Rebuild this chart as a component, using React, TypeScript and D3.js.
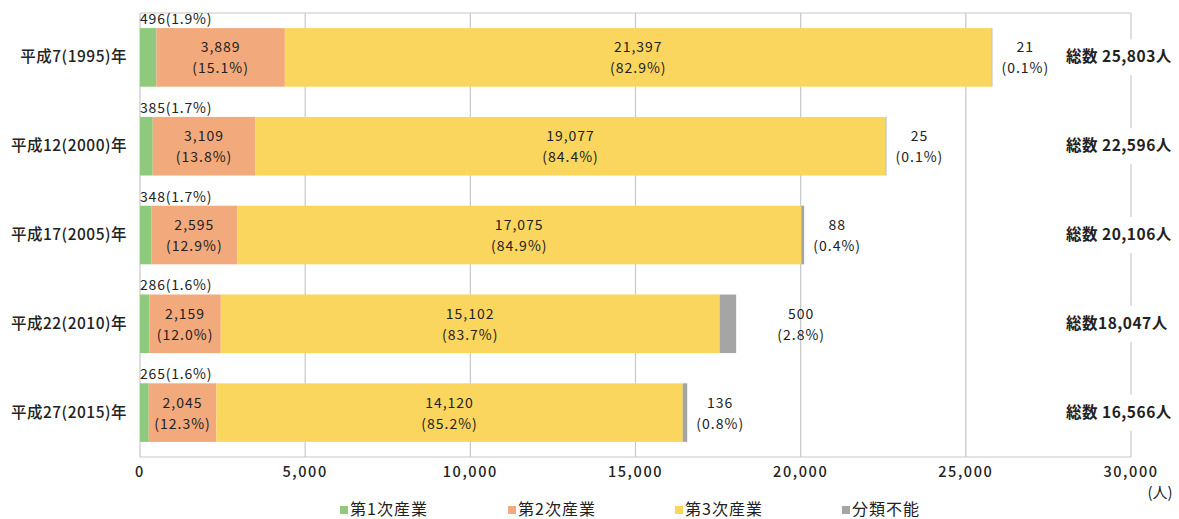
import React from "react";
import * as d3 from "d3";

const years = ["平成7(1995)年", "平成12(2000)年", "平成17(2005)年", "平成22(2010)年", "平成27(2015)年"];
const seriesNames = ["第1次産業", "第2次産業", "第3次産業", "分類不能"];
const primary = [496, 385, 348, 286, 265];
const secondary = [3889, 3109, 2595, 2159, 2045];
const tertiary = [21397, 19077, 17075, 15102, 14120];
const unclassified = [21, 25, 88, 500, 136];
const primaryPct = [1.9, 1.7, 1.7, 1.6, 1.6];
const secondaryPct = [15.1, 13.8, 12.9, 12.0, 12.3];
const tertiaryPct = [82.9, 84.4, 84.9, 83.7, 85.2];
const unclassifiedPct = [0.1, 0.1, 0.4, 2.8, 0.8];
const totalLabels = ["総数 25,803人", "総数 22,596人", "総数 20,106人", "総数18,047人", "総数 16,566人"];
const xTicks = [0, 5000, 10000, 15000, 20000, 25000, 30000];

const colors = ["#8fc97c", "#f2a97c", "#fad65e", "#a5a5a5"];
const FONT = "'Noto Sans CJK JP', 'Noto Sans', sans-serif";

export default function App() {
  const W = 1179, H = 519;
  const left = 140, right = 1131, top = 13, bottom = 457;
  const x = d3.scaleLinear().domain([0, 30000]).range([left, right]);
  const y = d3.scaleBand<string>().domain(years).range([top, bottom]).paddingInner(0.34).paddingOuter(0.17);
  const fmt = d3.format(",");
  const pf = (v: number) => `(${v.toFixed(1)}%)`;
  const series = [primary, secondary, tertiary, unclassified];
  const bh = y.bandwidth();
  const vs = { fontSize: 14, letterSpacing: 1, fill: "#222" } as const;

  return (
    <svg width={W} height={H} style={{ position: "absolute", left: 0, top: 0, background: "#fff" }} fontFamily={FONT}>
      {xTicks.map((t) => (
        <line key={t} x1={x(t)} x2={x(t)} y1={top} y2={bottom} stroke="#c8c8c8" strokeWidth={1.2} />
      ))}
      <line x1={left} x2={right} y1={top} y2={top} stroke="#c8c8c8" strokeWidth={1.2} />
      <line x1={left} x2={right} y1={bottom} y2={bottom} stroke="#c8c8c8" strokeWidth={1.2} />
      {xTicks.map((t) => (
        <text key={"t" + t} x={x(t)} y={bottom + 20} textAnchor="middle" fontSize={14.5} letterSpacing={1.6} fill="#222" fontWeight={500}>
          {fmt(t)}
        </text>
      ))}
      <text x={1160} y={498} textAnchor="middle" fontSize={15} fill="#222">(人)</text>

      {years.map((yr, i) => {
        const y0 = y(yr)!;
        const cy = y0 + bh / 2;
        let acc = 0;
        const segs = series.map((s, k) => {
          const a = acc;
          acc += s[i];
          return { k, a, b: acc };
        });
        const total = acc;
        const otherOff = i === 3 ? 65 : 33;
        const m1 = (x(segs[1].a) + x(segs[1].b)) / 2;
        const m2 = (x(segs[2].a) + x(segs[2].b)) / 2;
        const mo = x(total) + otherOff;
        return (
          <g key={yr}>
            <text x={127} y={cy + 5} textAnchor="end" fontSize={15.5} letterSpacing={0.5} fill="#222" fontWeight={500}>{yr}</text>
            {segs.map((sg) => (
              <rect key={sg.k} x={x(sg.a)} y={y0} width={x(sg.b) - x(sg.a)} height={bh} fill={colors[sg.k]} />
            ))}
            <text x={x(0)} y={y0 - 4} fontSize={14} letterSpacing={0.8} fill="#222">{`${primary[i]}${pf(primaryPct[i])}`}</text>
            <text x={m1} y={cy - 5} textAnchor="middle" {...vs}>{fmt(secondary[i])}</text>
            <text x={m1} y={cy + 16} textAnchor="middle" {...vs}>{pf(secondaryPct[i])}</text>
            <text x={m2} y={cy - 5} textAnchor="middle" {...vs}>{fmt(tertiary[i])}</text>
            <text x={m2} y={cy + 16} textAnchor="middle" {...vs}>{pf(tertiaryPct[i])}</text>
            <text x={mo} y={cy - 5} textAnchor="middle" {...vs}>{fmt(unclassified[i])}</text>
            <text x={mo} y={cy + 16} textAnchor="middle" {...vs}>{pf(unclassifiedPct[i])}</text>
            <rect x={1062} y={cy - 18} width={117} height={36} fill="#fff" />
            <text x={1066} y={cy + 5} fontSize={15.5} letterSpacing={0.5} fontWeight={700} fill="#222">{totalLabels[i]}</text>
          </g>
        );
      })}

      {seriesNames.map((n, k) => {
        const lx = [340, 508, 675, 842][k];
        return (
          <g key={n}>
            <rect x={lx} y={506} width={8} height={8} fill={colors[k]} />
            <text x={lx + 10} y={515} fontSize={16} letterSpacing={1} fill="#222">{n}</text>
          </g>
        );
      })}
    </svg>
  );
}
